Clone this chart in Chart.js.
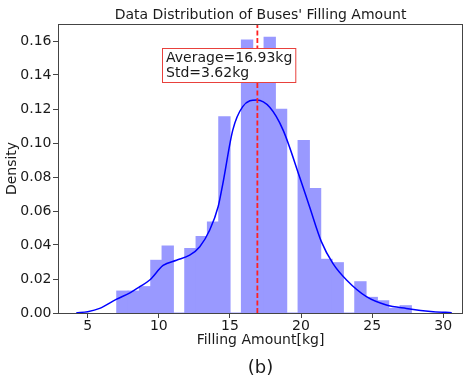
<!DOCTYPE html>
<html>
<head>
<meta charset="utf-8">
<script src="https://cdn.jsdelivr.net/npm/chart.js@4.4.1/dist/chart.umd.min.js"></script>
<style>
  html, body { margin: 0; padding: 0; background: #fff; }
  #wrap { width: 469px; height: 378px; }
</style>
</head>
<body>
<div id="wrap"><canvas id="chart" width="469" height="378"></canvas></div>
<script>
// histogram bins (kg) and their densities
const binStart = 7.04;
const binWidth = 0.797;
const binDensity = [0.0129, 0.0129, 0.0155, 0.031, 0.0394, 0, 0.038, 0.045, 0.0535, 0.1155,
  0, 0.1606, 0.15, 0.1622, 0.1198, 0, 0.1014, 0.0733, 0.0316, 0.0296,
  0, 0.0184, 0.0092, 0.0072, 0.0027, 0.0043];

// kde curve
const kdeX = [4.2, 5.0, 5.84, 7.0, 8.0, 8.66, 9.36, 10.3, 11.24, 12.17, 12.88, 13.58, 14.17, 14.5,
  15.2, 15.9, 16.9, 17.8, 18.74, 19.9, 20.6, 21.43, 22.25, 23.2, 24.6, 26.0, 27.4, 29.3, 30.6];
const kdeY = [0.0002, 0.0008, 0.0027, 0.008, 0.012, 0.0155, 0.0194, 0.028, 0.031, 0.034, 0.039, 0.0488, 0.0625, 0.076,
  0.1076, 0.1214, 0.1253, 0.121, 0.1076, 0.080, 0.0625, 0.042, 0.029, 0.0194, 0.0096, 0.0047, 0.0027, 0.0008, 0.0002];

const meanValue = 16.93;
const stdValue = 3.62;

const xTicks = [5, 10, 15, 20, 25, 30];
const yTicks = [0, 0.02, 0.04, 0.06, 0.08, 0.10, 0.12, 0.14, 0.16];

const FONT = 'DejaVu Sans';
const TEXT = '#1a1a1a';
const AXIS = '#444';

const barData = binDensity.map((d, i) => ({ x: binStart + (i + 0.5) * binWidth, y: d }));
const kdeData = kdeX.map((x, i) => ({ x: x, y: kdeY[i] }));

// title, caption, frame round the plot and the stats label
const decorations = {
  id: 'decorations',
  afterDatasetsDraw(chart) {
    const { ctx, scales } = chart;
    ctx.save();
    const lines = ['Average=' + meanValue.toFixed(2) + 'kg', 'Std=' + stdValue.toFixed(2) + 'kg'];
    ctx.font = '14px "' + FONT + '"';
    const w = Math.max(...lines.map(t => ctx.measureText(t).width)) + 7;
    const bx = Math.round(scales.x.getPixelForValue(10.2));
    const by = Math.round(scales.y.getPixelForValue(0.156));
    const h = 34;
    ctx.fillStyle = '#fff';
    ctx.fillRect(bx, by, w, h);
    ctx.strokeStyle = '#e8413c';
    ctx.lineWidth = 1;
    ctx.strokeRect(bx + 0.5, by + 0.5, w, h);
    ctx.fillStyle = TEXT;
    ctx.textBaseline = 'middle';
    ctx.textAlign = 'left';
    ctx.fillText(lines[0], bx + 4, by + 10);
    ctx.fillText(lines[1], bx + 4, by + 25);
    ctx.restore();
  },
  afterDraw(chart) {
    const { ctx, chartArea: a } = chart;
    ctx.save();
    ctx.strokeStyle = AXIS;
    ctx.lineWidth = 1;
    ctx.strokeRect(a.left + 0.5, a.top + 0.5, a.right - a.left - 1, a.bottom - a.top);
    ctx.fillStyle = TEXT;
    ctx.textAlign = 'center';
    ctx.textBaseline = 'middle';
    ctx.font = '14px "' + FONT + '"';
    ctx.fillText("Data Distribution of Buses' Filling Amount", (a.left + a.right) / 2, 15);
    ctx.font = '18px "' + FONT + '"';
    ctx.fillText('(b)', (a.left + a.right) / 2, 368);
    ctx.restore();
  }
};

new Chart(document.getElementById('chart'), {
  type: 'bar',
  data: {
    datasets: [
      {
        type: 'line',
        data: [{ x: meanValue, y: 0 }, { x: meanValue, y: 0.17 }],
        borderColor: '#ff2020',
        borderWidth: 1.8,
        borderDash: [5, 2.5],
        pointRadius: 0,
        order: 0
      },
      {
        type: 'line',
        data: kdeData,
        borderColor: '#0000ff',
        borderWidth: 1.5,
        pointRadius: 0,
        cubicInterpolationMode: 'monotone',
        order: 1
      },
      {
        type: 'bar',
        data: barData,
        backgroundColor: '#9999ff',
        borderWidth: 0,
        inflateAmount: 0.5,
        barPercentage: 1,
        categoryPercentage: 1,
        order: 2
      }
    ]
  },
  options: {
    responsive: false,
    animation: false,
    layout: { padding: { left: 0, right: 6, top: 24, bottom: 26 } },
    plugins: {
      legend: { display: false },
      tooltip: { enabled: false }
    },
    scales: {
      x: {
        type: 'linear',
        min: 2.91,
        max: 31.39,
        offset: false,
        afterFit: s => { s.height = 39; },
        afterBuildTicks: s => { s.ticks = xTicks.map(v => ({ value: v })); },
        grid: { offset: false, drawOnChartArea: false, drawTicks: true, tickLength: 5, color: AXIS },
        border: { display: false },
        ticks: { color: TEXT, font: { family: FONT, size: 14 }, padding: 0, maxRotation: 0 },
        title: { display: true, text: 'Filling Amount[kg]', color: TEXT, font: { family: FONT, size: 14 }, padding: { top: 2, bottom: 3 } }
      },
      y: {
        min: 0,
        max: 0.17,
        afterFit: s => { s.width = 58; },
        afterBuildTicks: s => { s.ticks = yTicks.map(v => ({ value: v })); },
        grid: { drawOnChartArea: false, drawTicks: true, tickLength: 5, color: AXIS },
        border: { display: false },
        ticks: { color: TEXT, font: { family: FONT, size: 14 }, padding: 1.5, callback: v => v.toFixed(2) },
        title: { display: true, text: 'Density', color: TEXT, font: { family: FONT, size: 14 }, padding: { top: 3.5, bottom: 4 } }
      }
    }
  },
  plugins: [decorations]
});
</script>
</body>
</html>
